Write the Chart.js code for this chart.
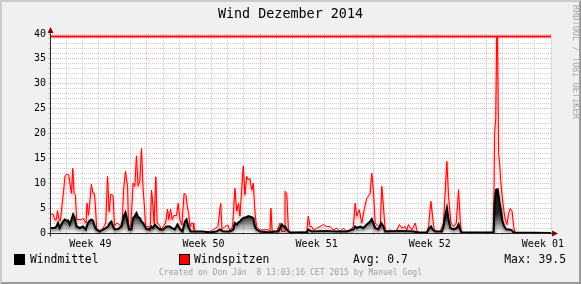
<!DOCTYPE html>
<html>
<head>
<meta charset="utf-8">
<script src="https://cdn.jsdelivr.net/npm/chart.js@4.4.1/dist/chart.umd.min.js"></script>
<style>
  html, body { margin: 0; padding: 0; background: #f0f0f0; }
  #wrap { position: relative; width: 581px; height: 284px; overflow: hidden; font-family: "DejaVu Sans Mono", monospace; }
  #chart { position: absolute; left: 0; top: 0; }
  .txt { position: absolute; white-space: pre; color: #000; }
  .box { position: absolute; width: 9px; height: 9px; border: 1px solid #000; }
</style>
</head>
<body>
<div id="wrap">
  <canvas id="chart" width="581" height="284"></canvas>
  <div class="txt" id="title" style="left:0; width:581px; top:5px; height:18px; line-height:18px; text-align:center; font-size:13.4px;"></div>
  <div class="txt" id="side" style="left:567px; top:5px; width:14px; height:114px; font-size:8.6px; color:#a8a8a8; writing-mode:vertical-rl;"></div>
  <div class="box" style="left:14px; top:254px; background:#000;"></div>
  <div class="txt" id="lg-mean" style="left:30px; top:252px; height:15px; line-height:15px; font-size:11.4px;"></div>
  <div class="box" style="left:179px; top:254px; background:#ff0000;"></div>
  <div class="txt" id="lg-peak" style="left:194px; top:252px; height:15px; line-height:15px; font-size:11.4px;"></div>
  <div class="txt" id="lg-avg" style="left:353px; top:252px; height:15px; line-height:15px; font-size:11.4px;"></div>
  <div class="txt" id="lg-max" style="right:15px; top:252px; height:15px; line-height:15px; font-size:11.4px;"></div>
  <div class="txt" id="footer" style="left:0; width:581px; top:267px; height:11px; line-height:11px; text-align:center; font-size:8.1px; color:#a0a0a0;"></div>
</div>
<script>
// --- DATA (x in days since 1 Dec 2014, y in the chart's unit) ---
const weekLabels = ['Week 49', 'Week 50', 'Week 51', 'Week 52', 'Week 01'];
const weekLabelDays = [2.5, 9.5, 16.5, 23.5, 30.5];
const weekStartDays = [6, 13, 20, 27];
const dayCount = 31;

const peakDays = [0, 0.19, 0.29, 0.4, 0.46, 0.56, 0.64, 0.74, 0.83, 0.93, 1.05, 1.16, 1.24, 1.33, 1.41, 1.49, 1.57, 1.65,
  1.95, 2.04, 2.15, 2.23, 2.29, 2.38, 2.46, 2.56, 2.66, 2.75, 2.81, 2.89, 3.18, 3.33, 3.45, 3.56, 3.66, 3.76, 3.9, 3.99,
  4.15, 4.32, 4.46, 4.55, 4.67, 4.8, 4.86, 5.0, 5.14, 5.25, 5.35, 5.45, 5.56, 5.66, 5.76, 5.85, 5.91, 6.12, 6.2, 6.28,
  6.36, 6.44, 6.55, 6.63, 6.8, 6.88, 7.0, 7.15, 7.27, 7.35, 7.46, 7.56, 7.66, 7.83, 7.93, 8.04, 8.16, 8.3, 8.41, 8.51,
  8.58, 8.66, 8.76, 8.86, 8.9, 9.09, 9.89, 10.08, 10.39, 10.56, 10.64, 10.82, 11.01, 11.13, 11.3, 11.44, 11.55, 11.67,
  11.75, 11.86, 11.96, 12.06, 12.17, 12.27, 12.37, 12.48, 12.58, 12.7, 12.79, 12.99, 13.44, 13.61, 13.67, 13.75, 14.03,
  14.23, 14.34, 14.48, 14.54, 14.65, 14.75, 14.85, 15.89, 15.98, 16.09, 16.2, 16.3, 16.51, 16.71, 16.92, 17.12, 17.33,
  17.53, 17.74, 17.95, 18.15, 18.36, 18.57, 18.77, 18.88, 18.98, 19.14, 19.29, 19.44, 19.6, 19.7, 19.81, 19.91, 20.01,
  20.12, 20.22, 20.43, 20.53, 20.63, 20.74, 20.84, 21.05, 21.25, 21.46, 21.62, 21.77, 21.97, 22.08, 22.18, 22.39, 22.6,
  22.7, 22.8, 23.32, 23.42, 23.57, 23.67, 23.77, 23.94, 24.14, 24.35, 24.47, 24.56, 24.66, 24.81, 24.97, 25.14, 25.28,
  25.38, 25.45, 27.45, 27.51, 27.58, 27.64, 27.69, 27.76, 27.82, 27.89, 27.96, 28.06, 28.17, 28.27, 28.38, 28.48, 28.59,
  28.69, 28.79, 31];
const peakValues = [3.8, 3.8, 2.7, 2.7, 4.5, 2.7, 2.4, 5.5, 8, 11.5, 11.8, 11.7, 9.8, 8, 13, 8, 7.7, 2.7,
  2.7, 3, 2.4, 2.0, 6, 3.6, 6, 9.8, 8, 8, 5.5, 0.7, 0.5, 1.3, 2.0, 11.4, 4.3, 7.8, 7.6, 1.5,
  2.0, 1.6, 1.5, 8.6, 12.4, 9.3, 1.3, 1.3, 10, 9.4, 15.5, 9.5, 10.5, 17, 9, 5, 1.3, 1.3, 0.5, 8.6,
  6, 2, 11.3, 2, 1.5, 0.5, 1.3, 2, 4.8, 2.7, 4.8, 2.7, 3.5, 3.5, 6, 2.7, 1.6, 8, 7.7, 5,
  4, 1.2, 2.0, 2.0, 0.7, 0.3, 0.3, 0.6, 1.3, 6, 0.7, 1.3, 1.6, 0.5, 1.3, 9, 4.4, 6,
  3.4, 8.7, 13.5, 7.7, 11.4, 10.7, 11, 8.7, 10, 3.4, 1.3, 0.6, 0.7, 0.3, 5, 0.1, 0.3,
  2, 0.3, 0.3, 8.4, 8, 0.7, 0.1, 0.2, 3.4, 1.3, 1.3, 0.6, 1, 1.3, 1.7, 1.3, 1.3,
  0.6, 1, 0.3, 1, 0.3, 0.6, 1.3, 6, 3.4, 4.7, 2, 4.7, 7, 7.4, 8, 12, 8.7,
  2, 1.7, 1, 9.4, 5.4, 0.7, 0.3, 0.6, 0.3, 0.6, 1.7, 1, 1.3, 0.6, 1.7, 0.6, 2,
  0.6, 0.1, 0.1, 1.3, 6.4, 3.4, 0.7, 0.3, 0.3, 2, 9.4, 14.4, 7.4, 2, 1.3, 2, 8.7,
  2.7, 0.1, 0.1, 20, 23, 39.5, 39.5, 16, 14, 10.5, 8, 5, 2.7, 1.7, 4, 5, 4.4,
  1.3, 0, 0];

const meanDays = [0, 0.29, 0.4, 0.5, 0.6, 0.71, 0.81, 0.91, 1.02, 1.12, 1.22, 1.33, 1.43, 1.53, 1.64, 1.84, 2.04, 2.21,
  2.35, 2.46, 2.57, 2.66, 2.77, 2.87, 3.08, 3.28, 3.45, 3.59, 3.7, 3.8, 3.9, 4.01, 4.21, 4.42, 4.57, 4.67, 4.77, 4.89,
  5.04, 5.14, 5.25, 5.35, 5.45, 5.56, 5.66, 5.76, 5.87, 5.97, 6.18, 6.28, 6.38, 6.49, 6.59, 6.8, 7.0, 7.21, 7.42, 7.52,
  7.72, 7.89, 8.04, 8.2, 8.35, 8.45, 8.55, 8.7, 9.46, 9.89, 10.31, 10.51, 10.72, 11.13, 11.34, 11.44, 11.55, 11.65,
  11.75, 11.86, 11.96, 12.17, 12.27, 12.48, 12.58, 12.68, 12.79, 12.99, 13.61, 13.82, 14.13, 14.34, 14.45, 14.55, 14.65,
  14.85, 15.89, 15.98, 16.2, 16.92, 17.74, 18.36, 18.77, 18.88, 18.98, 19.19, 19.39, 19.6, 19.81, 19.91, 20.01, 20.12,
  20.32, 20.49, 20.63, 20.74, 21.67, 22.49, 22.8, 23.32, 23.48, 23.57, 23.67, 23.83, 24.25, 24.35, 24.45, 24.56, 24.66,
  24.77, 24.97, 25.18, 25.28, 25.38, 25.45, 27.45, 27.51, 27.6, 27.7, 27.76, 27.82, 27.9, 28.0, 28.11, 28.23, 28.44,
  28.59, 28.69, 31];
const meanValues = [1, 1, 1.3, 2, 1, 1.7, 2.3, 2.7, 2.5, 2.5, 1.7, 2.7, 3.7, 3, 1.3, 1, 1.3, 0.7,
  2, 2.5, 2.7, 2.5, 1.3, 0.7, 0.3, 0.7, 1, 1.3, 2, 2.3, 1.3, 0.7, 0.8, 1.3, 3.4, 4.1, 2.7, 0.7,
  0.7, 3, 3.4, 4, 3.2, 3, 2.3, 2, 1.3, 0.8, 0.7, 1.3, 1, 1.7, 1.3, 0.7, 0.7, 1.3, 1.3, 1,
  0.7, 1.7, 0.8, 0.3, 2.3, 2.7, 1.3, 0.3, 0.3, 0.1, 0.3, 0.7, 0.3, 0.3, 0.7, 2, 1.7, 2.1,
  2.3, 2.7, 3, 3.2, 3.4, 3.2, 3, 1.3, 0.7, 0.3, 0.1, 0.3, 0.3, 1.7, 1.3, 1.3, 0.7,
  0.1, 0.1, 0.7, 0.3, 0.4, 0.3, 0.3, 0.7, 1.3, 1, 1.3, 1, 1.7, 2.3, 2.8, 2, 1,
  0.7, 2, 1.3, 0.3, 0.4, 0.3, 0.1, 0.1, 1, 1.3, 0.7, 0.3, 0.3, 1.3, 3.4, 5, 2.7,
  1, 0.7, 1, 1.7, 0.7, 0.1, 0.1, 6, 8.7, 8.8, 7.4, 6, 4.7, 2.3, 1.3, 0.7, 0.7,
  0.5, 0.1, 0];

const avgValue = 0.7;
const maxValue = 39.5;

const seriesNames = ['Windmittel', 'Windspitzen'];
const titleText = 'Wind Dezember 2014';
const sideText = 'RRDTOOL / TOBI OETIKER';
const footerText = 'Created on Don J\u00e4n  8 13:03:16 CET 2015 by Manuel Gogl';

// --- TEXT ---
document.getElementById('title').textContent = titleText;
document.getElementById('side').textContent = sideText;
document.getElementById('lg-mean').textContent = seriesNames[0];
document.getElementById('lg-peak').textContent = seriesNames[1];
document.getElementById('lg-avg').textContent = 'Avg: ' + avgValue.toFixed(1);
document.getElementById('lg-max').textContent = 'Max: ' + maxValue.toFixed(1);
document.getElementById('footer').textContent = footerText;

// --- STYLE ---
const MINOR = 'rgba(143,143,143,0.42)';
const MAJOR = 'rgba(222,79,79,0.42)';
const FONT = '"DejaVu Sans Mono", monospace';

const toPoints = (xs, ys) => xs.map((x, i) => ({ x: x, y: ys[i] }));

// background, canvas and the shaded frame
const frame = {
  id: 'frame',
  beforeDraw(chart) {
    const { ctx, chartArea: a, width: w, height: h } = chart;
    ctx.save();
    ctx.fillStyle = '#f0f0f0';
    ctx.fillRect(0, 0, w, h);
    ctx.fillStyle = '#cbcbcb';
    ctx.beginPath();
    ctx.moveTo(0, 0); ctx.lineTo(w, 0); ctx.lineTo(w - 2, 2); ctx.lineTo(2, 2); ctx.lineTo(2, h - 2); ctx.lineTo(0, h);
    ctx.fill();
    ctx.fillStyle = '#999999';
    ctx.beginPath();
    ctx.moveTo(w, h); ctx.lineTo(0, h); ctx.lineTo(2, h - 2); ctx.lineTo(w - 2, h - 2); ctx.lineTo(w - 2, 2); ctx.lineTo(w, 0);
    ctx.fill();
    ctx.fillStyle = '#ffffff';
    ctx.fillRect(a.left, a.top, a.right - a.left, a.bottom - a.top);
    ctx.restore();
  }
};

// soft shading below a line (rrdtool style gradient look)
const glow = {
  id: 'glow',
  beforeDatasetDraw(chart, args) {
    const ds = chart.data.datasets[args.index];
    if (!ds.glow) return;
    const ctx = chart.ctx;
    ctx.save();
    ctx.shadowColor = ds.glow;
    ctx.shadowOffsetY = 2;
    ctx.shadowBlur = 3;
  },
  afterDatasetDraw(chart, args) {
    if (chart.data.datasets[args.index].glow) chart.ctx.restore();
  }
};

// axis lines with arrow heads
const axes = {
  id: 'axes',
  afterDatasetsDraw(chart) {
    const { ctx, chartArea: a } = chart;
    const x0 = Math.round(a.left) + 0.5, y0 = Math.round(a.bottom) + 0.5;
    ctx.save();
    ctx.strokeStyle = '#2a2a2a';
    ctx.lineWidth = 1;
    ctx.beginPath();
    ctx.moveTo(x0 - 3, y0); ctx.lineTo(a.right + 3, y0);
    ctx.moveTo(x0, y0 + 3); ctx.lineTo(x0, a.top - 3);
    ctx.stroke();
    ctx.fillStyle = '#800000';
    ctx.beginPath();
    ctx.moveTo(a.right + 1, y0 - 3); ctx.lineTo(a.right + 7, y0); ctx.lineTo(a.right + 1, y0 + 3);
    ctx.fill();
    ctx.beginPath();
    ctx.moveTo(x0 - 3, a.top - 1); ctx.lineTo(x0, a.top - 7); ctx.lineTo(x0 + 3, a.top - 1);
    ctx.fill();
    ctx.restore();
  }
};

const meanFill = (c) => {
  const { chart } = c;
  const { ctx, chartArea, scales } = chart;
  if (!chartArea) return 'rgba(0,0,0,0.4)';
  const g = ctx.createLinearGradient(0, scales.y.getPixelForValue(0), 0, scales.y.getPixelForValue(4));
  g.addColorStop(0, 'rgba(0,0,0,0.03)');
  g.addColorStop(1, 'rgba(0,0,0,0.85)');
  return g;
};

new Chart(document.getElementById('chart'), {
  type: 'line',
  data: {
    datasets: [
      {
        label: seriesNames[0],
        data: toPoints(meanDays, meanValues),
        borderColor: '#000000',
        borderWidth: 2,
        backgroundColor: meanFill,
        fill: 'origin',
        glow: 'rgba(0,0,0,0.45)',
        pointRadius: 0,
        tension: 0
      },
      {
        label: seriesNames[1],
        data: toPoints(peakDays, peakValues),
        borderColor: '#ff0000',
        borderWidth: 1,
        fill: false,
        glow: 'rgba(255,0,0,0.6)',
        pointRadius: 0,
        tension: 0
      },
      {
        label: 'max',
        data: [{ x: 0, y: maxValue }, { x: dayCount, y: maxValue }],
        borderColor: '#ff0000',
        borderWidth: 2,
        fill: false,
        pointRadius: 0
      }
    ]
  },
  options: {
    responsive: false,
    animation: false,
    devicePixelRatio: 1,
    layout: { padding: { left: 0, right: 30, top: 34, bottom: 31 } },
    plugins: { legend: { display: false }, title: { display: false }, tooltip: { enabled: false } },
    scales: {
      x: {
        type: 'linear',
        min: 0,
        max: dayCount,
        afterFit: (scale) => { scale.height = 20; },
        afterBuildTicks: (scale) => {
          const vals = [];
          for (let d = 0; d <= dayCount; d++) vals.push(d);
          scale.ticks = vals.concat(weekLabelDays).sort((a, b) => a - b).map(v => ({ value: v }));
        },
        border: { display: false, dash: [1, 1] },
        grid: {
          color: (c) => {
            const v = c.tick ? c.tick.value : -1;
            if (weekLabelDays.includes(v)) return 'transparent';
            return weekStartDays.includes(v) ? MAJOR : MINOR;
          },
          tickLength: 2
        },
        ticks: {
          autoSkip: false,
          maxRotation: 0,
          padding: 3,
          color: '#000',
          font: { family: FONT, size: 10 },
          callback: (value) => {
            const i = weekLabelDays.indexOf(value);
            return i >= 0 ? weekLabels[i] : '';
          }
        }
      },
      y: {
        min: 0,
        max: 40,
        afterFit: (scale) => { scale.width = 50; },
        border: { display: false, dash: [1, 1] },
        grid: {
          color: (c) => (c.tick && c.tick.value % 5 === 0 ? MAJOR : MINOR),
          tickLength: 2
        },
        ticks: {
          stepSize: 1,
          autoSkip: false,
          padding: 2,
          color: '#000',
          font: { family: FONT, size: 10 },
          callback: (v) => (v % 5 === 0 ? v : '')
        }
      }
    }
  },
  plugins: [frame, glow, axes]
});
</script>
</body>
</html>
